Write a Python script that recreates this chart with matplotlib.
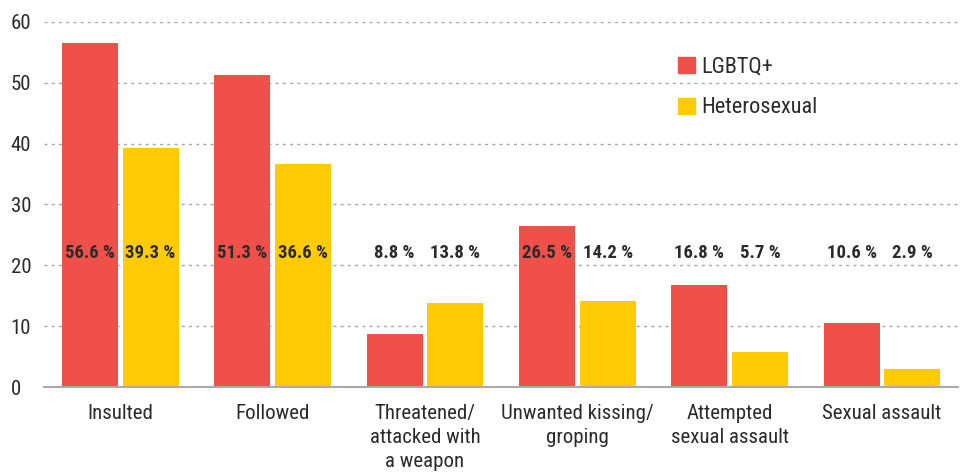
import numpy as np
import matplotlib.pyplot as plt
import matplotlib.patches as mpatches
from matplotlib import font_manager

categories = ['Insulted', 'Followed', 'Threatened/\nattacked with\na weapon',
              'Unwanted kissing/\ngroping', 'Attempted\nsexual assault', 'Sexual assault']
lgbtq = [56.6, 51.3, 8.8, 26.5, 16.8, 10.6]
hetero = [39.3, 36.6, 13.8, 14.2, 5.7, 2.9]
series_names = ['LGBTQ+', 'Heterosexual']
yticks = [0, 10, 20, 30, 40, 50, 60]

red = '#F0504A'
yellow = '#FFCB05'
text_col = '#2b2b2b'

# prefer a narrow face if one is installed
installed = {f.name for f in font_manager.fontManager.ttflist}
fam = [f for f in ['Roboto Condensed', 'Liberation Sans Narrow', 'Open Sans Condensed',
                   'Roboto', 'Liberation Sans'] if f in installed]
plt.rcParams['font.family'] = fam + ['DejaVu Sans']

fig = plt.figure(figsize=(9.61, 4.75), dpi=100)
ax = fig.add_axes([0.046, 0.185, 0.951, 0.769])

x = np.arange(len(categories))
w = 0.366
off = 0.199
ax.bar(x - off, lgbtq, width=w, color=red, zorder=3)
ax.bar(x + off, hetero, width=w, color=yellow, zorder=3)

# value labels sit at a common height across the chart
for i in range(len(categories)):
    ax.text(x[i] - off, 22, f'{lgbtq[i]} %', ha='center', va='center',
            fontsize=13.5, fontweight='bold', color=text_col, zorder=4)
    ax.text(x[i] + off, 22, f'{hetero[i]} %', ha='center', va='center',
            fontsize=13.5, fontweight='bold', color=text_col, zorder=4)

ax.set_xlim(-0.5, len(categories) - 0.5)
ax.set_ylim(0, 60)
ax.set_yticks(yticks)
ax.set_yticklabels([str(t) for t in yticks], ha='left')
ax.set_xticks(x)
ax.set_xticklabels(categories, fontsize=15, color=text_col, linespacing=1.35)
ax.tick_params(axis='y', length=0, pad=24, labelsize=15, labelcolor=text_col)
ax.tick_params(axis='x', length=0, pad=12)

for t in yticks[1:]:
    ax.axhline(t, color='#a8a8a8', linestyle=(0, (2.2, 3)), linewidth=1, zorder=1)
for s in ['top', 'right', 'left']:
    ax.spines[s].set_visible(False)
ax.spines['bottom'].set_color('#aaaaaa')
ax.spines['bottom'].set_linewidth(1.5)
ax.spines['bottom'].set_zorder(4)

handles = [mpatches.Patch(color=red), mpatches.Patch(color=yellow)]
leg = ax.legend(handles, series_names, loc='upper left', bbox_to_anchor=(0.672, 0.96),
                frameon=False, handlelength=0.75, handleheight=0.75, labelspacing=0.9,
                handletextpad=0.3, fontsize=16)
for t in leg.get_texts():
    t.set_color(text_col)

fig.savefig('out.png', dpi=100)
